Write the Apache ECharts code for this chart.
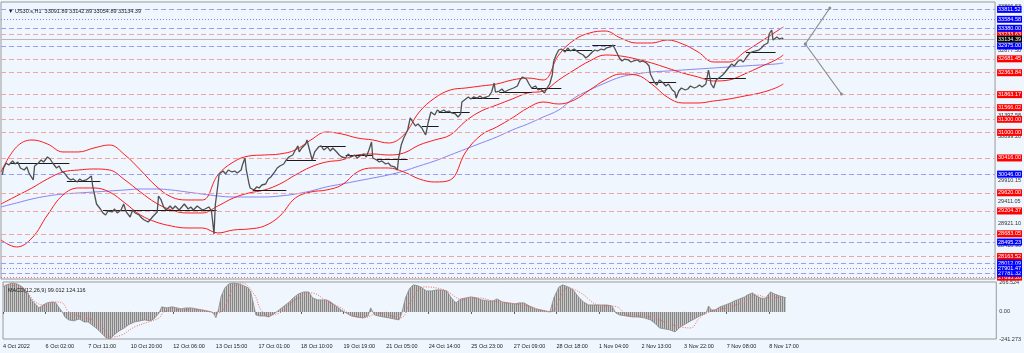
<!DOCTYPE html>
<html>
<head>
<meta charset="utf-8">
<script src="https://cdn.jsdelivr.net/npm/echarts@6/dist/echarts.min.js"></script>
<style>
  html, body { margin: 0; padding: 0; background: #eff6fd; }
  #chart { width: 1024px; height: 353px; }
</style>
</head>
<body>
<div id="chart"></div>
<script>
// x values are H1 bar numbers counted from the first bar (4 Oct 2022)
var timeBars = [0, 33, 66, 99, 132, 165, 198, 231, 264, 297, 330, 363, 396, 429, 462, 495, 528, 561, 594];
var timeLabels = ['4 Oct 2022', '6 Oct 02:00', '7 Oct 11:00', '10 Oct 20:00', '12 Oct 06:00', '13 Oct 15:00',
  '17 Oct 01:00', '18 Oct 10:00', '19 Oct 19:00', '21 Oct 05:00', '24 Oct 14:00', '25 Oct 23:00',
  '27 Oct 09:00', '28 Oct 18:00', '1 Nov 04:00', '2 Nov 13:00', '3 Nov 22:00', '7 Nov 08:00', '8 Nov 17:00'];

var priceTicks = [33866.53, 32877.50, 31397.58, 30899.20, 29910.15, 29411.05, 28921.10, 28418.96];
var macdTicks = [266.524, 0, -241.273];

// closes [bar, price]
var closes = [[1,30027],[2,30187],[4,30301],[6,30255],[9,30347],[11,30278],[13,30324],[15,30187],[18,30141],[20,30210],[22,30050],[25,29913],[26,30233],[29,30301],[31,30370],[33,30324],[36,30438],[38,30392],[40,30301],[43,30187],[45,30233],[47,30118],[49,30073],[52,29958],[54,29913],[56,29936],[59,29867],[61,29936],[63,29890],[66,29913],[68,29958],[70,30004],[71,29776],[73,29501],[74,29364],[77,29250],
  [79,29159],[81,29113],[83,29204],[86,29182],[88,29250],[90,29159],[93,29227],[95,29364],[97,29182],[100,29067],[102,29227],[104,29159],[107,29113],[109,29044],[111,28999],[114,28953],[116,29021],[118,29090],[121,29182],[122,29547],[124,29456],[126,29296],[128,29227],[131,29319],[133,29250],[135,29319],[138,29227],[140,29296],[142,29364],[145,29250],[147,29296],[149,29227],[152,29319],[154,29273],[156,29227],[158,29250],[161,29296],[163,29204],[164,28953],[165,28679],[166,29341],[168,29798],[169,30050],
  [172,30118],[174,30050],[176,30141],[179,30096],[181,30118],[183,30073],[186,30141],[187,30255],[189,30415],[190,30141],[192,29844],[193,29730],[196,29684],[198,29753],[200,29730],[202,29798],[205,29821],[207,29936],[209,29981],[212,30096],[214,30187],[216,30233],[219,30278],[221,30370],[223,30438],[226,30484],[228,30598],[230,30690],[231,30553],
  [233,30644],[236,30735],[237,30827],[239,30598],[241,30370],[243,30553],[246,30667],[248,30690],[250,30598],[253,30667],[255,30575],[257,30644],[260,30553],[262,30484],[264,30438],[267,30415],[269,30507],[271,30438],[274,30484],[276,30415],[278,30461],[281,30507],[283,30438],[285,30598],[287,30781],[288,30415],[291,30370],[293,30324],[295,30347],[298,30278],[300,30301],[302,30233],[305,30210],[307,30141],[308,30415],[310,30712],[312,30872],[315,31055],
  [317,31330],[319,31238],[321,31147],[323,31192],[326,31101],[328,30987],[329,30941],[331,31238],[333,31466],[336,31398],[338,31512],[340,31466],[343,31512],[345,31466],[347,31489],[349,31444],[352,31421],[354,31352],[356,31421],[357,31695],[360,31764],[362,31809],[364,31764],[366,31809],[369,31786],[371,31832],[373,31786],[376,31809],[378,31832],[380,31923],[382,32129],[383,31923],[386,31946],[388,31992],[390,31923],[393,31969],[395,31992],[397,32015],[400,32061],[402,32198],[404,32266],[407,32221],[409,32106],[411,32015],[414,32061],[416,31969],[418,31992],[421,31901],[423,32015],[425,32106],[427,32312],[428,32609],[430,32769],[432,32883],
  [434,32906],[437,32838],[439,32929],[441,32860],[444,32906],[446,32860],[448,32815],[451,32769],[453,32700],[455,32746],[458,32838],[460,32883],[462,32860],[465,32906],[467,32883],[469,32929],[472,32952],[474,32997],[476,32883],[479,32700],[481,32632],[483,32677],[486,32655],[488,32609],[490,32632],[493,32655],[495,32609],[497,32632],[500,32586],[502,32518],[503,32335],[506,32152],[508,32083],[510,32198],[513,32129],[515,32061],[517,32106],[520,31969],[522,31923],[523,31786],[525,31946],[527,32015],[530,31969],[532,31992],[534,32061],[537,32015],[539,32038],[541,32083],[543,32038],[546,32106],[548,32426],[550,32106],[552,32015],[554,32198],[557,32266],[559,32312],[561,32380],[564,32495],[566,32563],[568,32518],[571,32632],[573,32655],[575,32609],[577,32700],[580,32815],[582,32838],[584,32860],[587,32883],[589,32929],[591,32997],[594,33043],[595,33249],[597,33340],[598,33112],[601,33180],[603,33135],[605,33157],[606,33134]];

// bollinger bands + moving average, read every 12 bars
var bandBars = [0,12,24,36,48,60,72,84,96,108,120,132,144,156,168,180,192,204,216,228,240,252,264,276,288,300,312,324,336,348,360,372,384,396,408,420,432,444,456,468,480,492,504,516,528,540,552,564,576,588,600,606];
var bbUpper = [30096,30667,30827,30735,30553,30553,30644,30712,30484,30141,29776,29524,29456,29456,30027,30324,30461,30484,30507,30598,30827,31009,30964,30872,30827,30758,30941,31466,31786,31969,32015,32061,32106,32198,32243,32198,32769,33112,33272,33317,33157,33043,33043,33112,33020,32837,32609,32609,32837,33066,33295,33409];
var bbMiddle = [29364,29547,29730,29936,30096,30141,30164,30141,29913,29638,29387,29227,29159,29159,29319,29501,29615,29684,29821,30027,30210,30324,30370,30484,30507,30484,30530,30712,30827,30941,31261,31489,31626,31764,31901,31946,32198,32426,32632,32769,32746,32677,32586,32472,32358,32266,32175,32198,32335,32495,32655,32769];
var bbLower = [28542,28382,28587,29113,29570,29730,29730,29638,29387,29113,28953,28861,28816,28816,28702,28770,28793,28861,29090,29501,29638,29684,29798,30096,30187,30187,30096,29936,29867,29913,30553,30941,31124,31330,31558,31695,31649,31741,31969,32198,32335,32312,32106,31809,31672,31672,31718,31764,31832,31901,32015,32106];
var maLine = [29296,29387,29478,29547,29592,29615,29638,29661,29684,29707,29707,29684,29638,29592,29547,29524,29524,29524,29547,29592,29661,29753,29821,29890,29958,30027,30118,30233,30347,30484,30621,30758,30895,31055,31192,31352,31512,31786,31969,32129,32266,32335,32380,32403,32426,32449,32472,32495,32518,32540,32563,32586];

// level lines
var redLevels = [33233.63, 32681.45, 32363.84, 31863.17, 31566.02, 31300.00, 31000.00, 30416.00, 29620.00, 29204.37, 28683.05, 28163.52];
var redDotted = [27693.20];
var blueLevels = [33811.52, 33380.00, 32975.00, 30046.00, 28495.23, 28012.09, 27781.32];
var blueDotted = [33584.58, 27901.47];
var lastPrice = 33134.39;

// drawn horizontal segments [fromBar, toBar, price]
var segments = [[7,53,30301],[51,77,29890],[79,167,29227],[195,221,29684],[221,244,30370],[247,267,30690],[267,288,30484],[291,315,30392],[326,339,31147],[339,363,31466],[363,386,31786],[386,411,31923],[411,434,32015],[436,458,32883],[458,476,32997],[502,523,32152],[545,577,32243],[577,600,32837]];
var arrowUp = [[623,33020],[642,33843]];
var arrowDown = [[623,33020],[651,31878]];

// MACD main [bar, value] and signal
var macd = [[0,223],[3,241],[7,258],[11,249],[15,223],[19,169],[22,107],[25,71],[28,36],[30,53],[34,80],[38,89],[41,80],[43,45],[46,0],[48,-45],[51,-71],[55,-80],[59,-62],[63,-89],[66,-89],[69,-116],[73,-151],[77,-196],[80,-232],[83,-241],[86,-205],[90,-169],[94,-143],[97,-116],[102,-89],[106,-80],[110,-71],[114,-80],[117,-62],[121,-9],[123,45],[127,36],[131,45],[135,36],[138,27],[142,36],[146,36],[150,27],[154,18],[158,9],[162,0],[164,-27],[165,-53],[167,18],[169,134],[172,214],[175,249],[179,258],[183,249],[187,232],[190,214],[192,178],[194,80],[196,-27],[199,-36],[203,-36],[206,-45],[210,-18],[214,18],[218,53],[222,89],[225,125],[229,160],[233,178],[237,178],[240,125],[244,107],[247,107],[251,107],[254,89],[258,53],[262,18],[266,-9],[270,-36],[274,-45],[279,-53],[283,-36],[285,36],[288,-27],[291,-36],[295,-45],[299,-53],[303,-62],[307,-71],[309,-18],[312,125],[315,205],[318,241],[322,232],[325,214],[328,187],[332,187],[336,196],[340,196],[344,187],[347,134],[351,80],[355,116],[359,125],[363,134],[367,125],[371,107],[376,98],[380,98],[383,116],[387,89],[392,80],[397,71],[400,80],[404,80],[408,53],[413,27],[417,18],[421,9],[424,0],[427,125],[431,223],[434,241],[438,223],[442,196],[446,134],[450,89],[454,62],[458,62],[463,62],[468,62],[472,53],[475,-9],[478,-27],[483,-36],[488,-45],[492,-45],[497,-53],[502,-71],[506,-107],[509,-143],[513,-151],[517,-160],[521,-178],[525,-134],[529,-107],[533,-80],[536,-62],[540,-36],[545,-9],[547,53],[549,18],[552,18],[556,45],[560,62],[564,80],[567,98],[571,116],[575,134],[577,151],[581,169],[584,143],[587,125],[591,116],[593,151],[595,178],[598,160],[602,143],[607,125]];
var signal = [[0,241],[15,214],[25,89],[32,62],[40,89],[46,80],[51,0],[61,-45],[69,-71],[77,-134],[84,-223],[92,-205],[102,-134],[113,-89],[121,-53],[125,0],[136,18],[154,18],[164,-9],[169,0],[179,223],[185,258],[195,151],[200,18],[206,-27],[216,0],[223,80],[231,134],[239,169],[252,89],[262,36],[270,-27],[280,-53],[291,-9],[308,-53],[316,89],[326,223],[342,196],[357,107],[368,125],[383,89],[404,62],[424,0],[438,214],[448,169],[461,62],[476,45],[484,-27],[502,-45],[519,-116],[533,-143],[540,-53],[548,0],[564,45],[577,107],[584,151],[594,125],[604,134]];

function zip(xs, ys) {
  var out = [];
  for (var i = 0; i < xs.length; i++) out.push([xs[i], ys[i]]);
  return out;
}

var smallFont = { fontSize: 5.5, fontFamily: 'Liberation Sans', color: '#222', fontWeight: 'normal' };

function levelLine(v, color, boxColor, type) {
  return {
    yAxis: v,
    lineStyle: { color: color, type: type, width: 1 },
    label: {
      show: true, position: 'end', distance: 2, formatter: v.toFixed(2),
      color: '#fff', backgroundColor: boxColor, padding: [1, 1, 0, 1],
      fontSize: 5.5, lineHeight: 6, fontFamily: 'Liberation Sans'
    }
  };
}

var levels = [];
redLevels.forEach(function (v) { levels.push(levelLine(v, '#f2a3a3', '#ff0000', [5, 3])); });
redDotted.forEach(function (v) { levels.push(levelLine(v, '#f07070', '#ff0000', [1, 2])); });
blueLevels.forEach(function (v) { levels.push(levelLine(v, '#9b9bf0', '#0000ff', [5, 3])); });
blueDotted.forEach(function (v) { levels.push(levelLine(v, '#8080f0', '#0000ff', [1, 2])); });
levels.push(levelLine(lastPrice, '#b8b8b8', '#000000', 'solid'));

var segLines = segments.map(function (s) {
  return [{ coord: [s[0], s[2]] }, { coord: [s[1], s[2]] }];
});

// striped fill so the MACD area reads like a dense histogram
var stripe = document.createElement('canvas');
stripe.width = 2; stripe.height = 2;
var sctx = stripe.getContext('2d');
sctx.fillStyle = '#c9c9c9'; sctx.fillRect(0, 0, 2, 2);
sctx.fillStyle = '#858585'; sctx.fillRect(0, 0, 1, 2);

var chart = echarts.init(document.getElementById('chart'));
var option = {
  backgroundColor: '#eff6fd',
  animation: false,
  title: [
    { text: '\u25BC US30.s,H1  33091.89 33142.89 33054.89 33134.39', left: 3, top: 3, textStyle: smallFont },
    { text: 'MACD(12,26,9) 99.012 124.116', left: 3, top: 282, textStyle: smallFont }
  ],
  grid: [
    { left: 1, right: 27, top: 2, height: 277, show: true, borderColor: '#9a9a9a', borderWidth: 1 },
    { left: 1, right: 27, top: 282, height: 57, show: true, borderColor: '#9a9a9a', borderWidth: 1 }
  ],
  xAxis: [
    { type: 'value', gridIndex: 0, min: 0, max: 770, show: false },
    {
      type: 'value', gridIndex: 1, min: 0, max: 770,
      splitLine: { show: false }, axisLine: { show: false },
      axisTick: { customValues: timeBars, length: 2, lineStyle: { color: '#555' } },
      axisLabel: {
        customValues: timeBars, align: 'left', margin: 4,
        fontSize: 5.5, color: '#222', fontFamily: 'Liberation Sans',
        formatter: function (v) { return timeLabels[Math.round(v / 33)]; }
      }
    }
  ],
  yAxis: [
    {
      type: 'value', gridIndex: 0, position: 'right', min: 27650, max: 33980,
      splitLine: { show: false }, axisLine: { show: false }, axisTick: { show: false },
      axisLabel: {
        customValues: priceTicks, margin: 3, fontSize: 5.5, color: '#333', fontFamily: 'Liberation Sans',
        formatter: function (v) { return v.toFixed(2); }
      }
    },
    {
      type: 'value', gridIndex: 1, position: 'right', min: -241.273, max: 266.524,
      splitLine: { show: false }, axisLine: { show: false }, axisTick: { show: false },
      axisLabel: {
        customValues: macdTicks, margin: 3, fontSize: 5.5, color: '#333', fontFamily: 'Liberation Sans',
        formatter: function (v) { return v === 0 ? '0.00' : String(v); }
      }
    }
  ],
  series: [
    {
      name: 'levels', type: 'line', data: [], z: 1, silent: true,
      markLine: { symbol: 'none', silent: true, animation: false, data: levels }
    },
    {
      name: 'MA', type: 'line', data: zip(bandBars, maLine), smooth: 0.4, showSymbol: false, z: 2,
      lineStyle: { color: '#8585f5', width: 1 }
    },
    {
      name: 'BB upper', type: 'line', data: zip(bandBars, bbUpper), smooth: 0.4, showSymbol: false, z: 3,
      lineStyle: { color: '#ff1a1a', width: 1 }
    },
    {
      name: 'BB middle', type: 'line', data: zip(bandBars, bbMiddle), smooth: 0.4, showSymbol: false, z: 3,
      lineStyle: { color: '#ff1a1a', width: 1 }
    },
    {
      name: 'BB lower', type: 'line', data: zip(bandBars, bbLower), smooth: 0.4, showSymbol: false, z: 3,
      lineStyle: { color: '#ff1a1a', width: 1 }
    },
    {
      name: 'segments', type: 'line', data: [], z: 4, silent: true,
      markLine: {
        symbol: 'none', silent: true, animation: false, label: { show: false },
        lineStyle: { color: '#1a1a1a', type: 'solid', width: 1 }, data: segLines
      }
    },
    {
      name: 'price', type: 'line', data: closes, showSymbol: false, z: 5,
      lineStyle: { color: '#505050', width: 1.3 }
    },
    {
      name: 'arrow up', type: 'line', data: arrowUp, symbol: 'circle', symbolSize: 3, z: 5,
      lineStyle: { color: '#8c8c8c', width: 1.2 }, itemStyle: { color: '#8c8c8c' }
    },
    {
      name: 'arrow down', type: 'line', data: arrowDown, symbol: 'circle', symbolSize: 3, z: 5,
      lineStyle: { color: '#8c8c8c', width: 1.2 }, itemStyle: { color: '#8c8c8c' }
    },
    {
      name: 'MACD', type: 'line', xAxisIndex: 1, yAxisIndex: 1, data: macd, showSymbol: false, z: 2,
      lineStyle: { color: '#8a8a8a', width: 0.8 },
      areaStyle: { color: { image: stripe, repeat: 'repeat' }, opacity: 1 }
    },
    {
      name: 'Signal', type: 'line', xAxisIndex: 1, yAxisIndex: 1, data: signal, smooth: 0.4, showSymbol: false, z: 3,
      lineStyle: { color: '#f26a6a', width: 1, type: [1, 1.5] }
    }
  ]
};
chart.setOption(option);
</script>
</body>
</html>
